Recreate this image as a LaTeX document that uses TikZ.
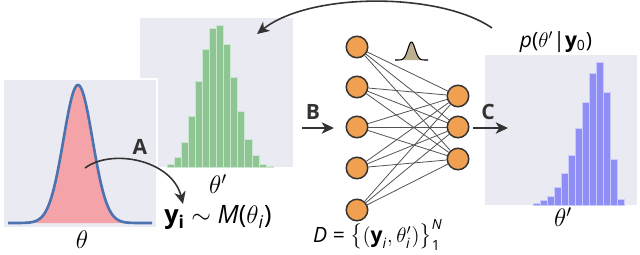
\documentclass[tikz,border=0pt]{standalone}
\usepackage{amsmath}
\usepackage{fontspec}
\setmainfont{Open Sans}
\usetikzlibrary{arrows.meta}
\definecolor{panelbg}{HTML}{EAEAF2}
\definecolor{priorred}{HTML}{F4A3A8}
\definecolor{priorline}{HTML}{4C72B0}
\definecolor{simgreen}{HTML}{8DC692}
\definecolor{postblue}{HTML}{8E8EF6}
\definecolor{nnorange}{HTML}{F0A050}
\definecolor{darkline}{HTML}{333333}
\definecolor{bumptan}{HTML}{BDB091}
\tikzset{
  panel/.style={fill=panelbg},
  greenbar/.style={fill=simgreen,draw=simgreen!45!white,line width=0.35pt},
  bluebar/.style={fill=postblue,draw=postblue!45!white,line width=0.35pt},
  neuron/.style={circle,draw=darkline,fill=nnorange,line width=0.85pt,
    minimum size=0.43cm,inner sep=0pt},
  synapse/.style={draw=darkline!85,line width=0.45pt},
  steparrow/.style={-{Stealth[length=7pt,width=6.5pt,inset=2pt]},line width=0.9pt,draw=darkline},
  steplabel/.style={font=\large\bfseries,text=darkline},
  mathlabel/.style={font=\Large},
  smallmath/.style={font=\large},
  axislabel/.style={font=\Large}
}

\begin{document}
\begin{tikzpicture}[x=0.02cm,y=-0.02cm]
  \useasboundingbox (0,0) rectangle (640,254);

  % simulated parameters (green histogram)
  \fill[panel] (140,18) rectangle (293,167);
  \foreach \h [count=\i from 0] in {3,10,25,51,86,118,139,142,123,90,56,28,12,3,1}
    \filldraw[greenbar] ({167+7.07*\i},167) rectangle ++(7.07,-\h);

  % prior
  \filldraw[panel,draw=white,line width=1pt] (3,79) rectangle (157,228);
  \fill[priorred] plot[domain=8:152,samples=120]
    (\x,{223-138*exp(-((\x-78)/14.5)*((\x-78)/14.5)/2)}) -- cycle;
  \draw[priorline,line width=1.5pt] plot[domain=8:152,samples=120]
    (\x,{223-138*exp(-((\x-78)/14.5)*((\x-78)/14.5)/2)});

  % posterior (blue histogram)
  \fill[panel] (485,55) rectangle (637,205);
  \foreach \h [count=\i from 0] in {1.7,4.3,8.3,17.7,31.7,50,76.7,103,131.7,143,113,45.7,5.7}
    \filldraw[bluebar] ({533+7*\i},205) rectangle ++(7,-\h);

  % network
  \foreach \n/\y in {1/47,2/87,3/127,4/168,5/210}
    \node[neuron] (in\n) at (357,\y) {};
  \foreach \n/\y in {1/96,2/127,3/159}
    \node[neuron] (out\n) at (458,\y) {};
  \foreach \a in {1,...,5}
    \foreach \b in {1,2,3}
      \draw[synapse] (in\a) -- (out\b);
  \filldraw[fill=bumptan,draw=black,line width=0.6pt] plot[domain=395:428,samples=60]
    (\x,{60-18*exp(-((\x-411.5)/3.6)*((\x-411.5)/3.6)/2)});

  % steps
  \coordinate (astart) at (85,168);
  \coordinate (aend) at (183,204);
  \draw[steparrow] (astart) .. controls (112,148) and (172,160) .. (aend);
  \node[steplabel] (alab) at (140,147) {A};

  \coordinate (bstart) at (302,128);
  \coordinate (bend) at (334,128);
  \draw[steparrow] (bstart) -- (bend);
  \node[steplabel] (blab) at (313,112) {B};

  \coordinate (cstart) at (473,128);
  \coordinate (cend) at (508,128);
  \draw[steparrow] (cstart) -- (cend);
  \node[steplabel] (clab) at (488,112) {C};

  \coordinate (fbstart) at (492,28);
  \coordinate (fbend) at (257,34);
  \draw[steparrow] (fbstart) .. controls (440,-8) and (310,-8) .. (fbend);

  % labels
  \node[axislabel] (theta) at (82,240) {$\theta$};
  \node[axislabel] (thetasim) at (218,184) {$\theta'$};
  \node[axislabel] (thetapost) at (563,217) {$\theta'$};
  \node[mathlabel] (model) at (218,218)
    {\textbf{y}\textsubscript{\textbf{i}} $\sim$ \textit{M}($\theta$\textsubscript{\textit{i}})};
  \node[smallmath] (dataset) at (378,235)
    {\textit{D} = $\bigl\{(\text{\textbf{y}}_{\text{\textit{i}}}, \theta'_{\text{\textit{i}}})\bigr\}_{\text{1}}^{\text{\textit{N}}}$};
  \node[smallmath] (postlab) at (556,42)
    {\textit{p}($\theta'$|\textbf{y}\textsubscript{0})};
\end{tikzpicture}
\end{document}
